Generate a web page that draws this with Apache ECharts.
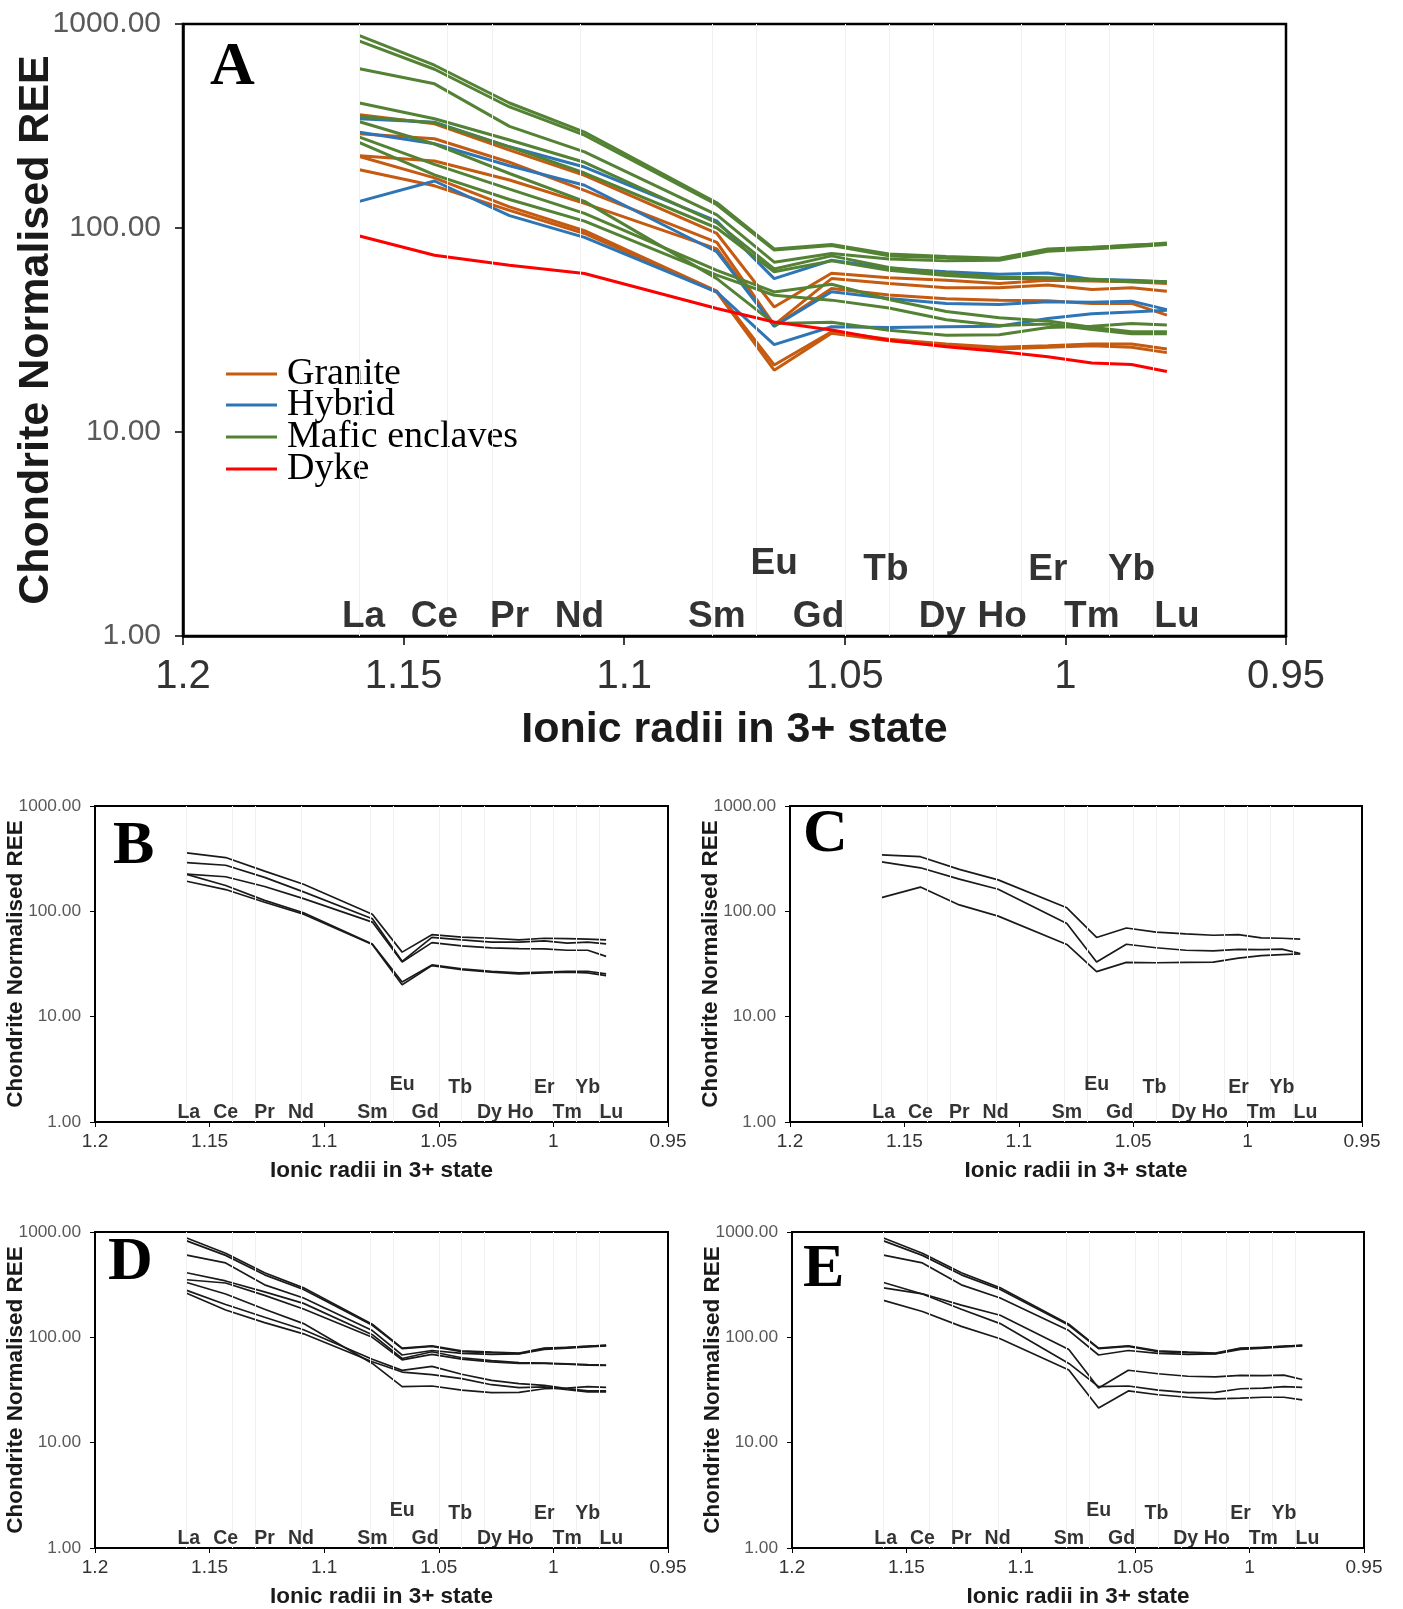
<!DOCTYPE html>
<html>
<head>
<meta charset="utf-8">
<title>Chondrite normalised REE</title>
<script src="https://cdn.jsdelivr.net/npm/echarts@6.0.0/dist/echarts.min.js"></script>
<style>
    html, body { margin: 0; padding: 0; background: #fff; }
    #main { width: 1403px; height: 1609px; }
</style>
</head>
<body>
<div id="main"></div>
<script>
// element order and ionic radii (3+)
var elements = ['La', 'Ce', 'Pr', 'Nd', 'Sm', 'Eu', 'Gd', 'Tb', 'Dy', 'Ho', 'Er', 'Tm', 'Yb', 'Lu'];
var radii = [1.160, 1.143, 1.126, 1.109, 1.079, 1.066, 1.053, 1.040, 1.027, 1.015, 1.004, 0.994, 0.985, 0.977];
var upperRowElements = ['Eu', 'Tb', 'Er', 'Yb'];
var yTickValues = [1, 10, 100, 1000];

// granite samples
var granite1 = [359, 324, 241, 181, 94, 41, 60, 57, 55.5, 53.5, 55.5, 55, 54.5, 53.5];
var granite2 = [290, 274, 210, 153, 85, 33.5, 56.5, 53.5, 51, 51, 52.5, 50, 51, 49];
var granite3 = [226, 213, 172, 132, 79, 33, 50.5, 47, 45, 44.3, 44, 42.7, 42.7, 37.4];
var granite4 = [224, 176, 127, 97, 49, 21.3, 31, 28.5, 27, 26, 26.5, 27, 27, 25.5];
var granite5 = [193, 161, 122, 94, 48.5, 20.1, 30.5, 28, 26.5, 25.5, 26, 26.5, 26, 24.5];

// hybrid samples
var hybrid1 = [343, 330, 250, 199, 108, 56.5, 69.5, 63.5, 61, 59.3, 60.1, 56, 55.5, 54.5];
var hybrid2 = [295, 259, 202, 162, 76.5, 33, 48.7, 45.1, 42.7, 42.2, 43.5, 43.3, 43.8, 39.8];
var hybrid3 = [135, 170, 115, 90, 48.5, 26.8, 32.8, 32.5, 32.8, 33, 36, 38, 38.8, 39.5];

// mafic enclaves
var mafic1 = [877, 628, 410, 295, 133, 79, 83, 74.5, 72.5, 71, 79, 80.5, 82, 84.5];
var mafic2 = [824, 600, 392, 285, 130, 78, 82, 73, 71.5, 70, 78, 80, 82.5, 83.5];
var mafic3 = [603, 509, 315, 236, 116, 68, 75, 70.5, 69, 69.5, 77, 79, 81, 83];
var mafic4 = [410, 343, 270, 210, 106, 63, 73, 64, 60, 57.5, 57, 56, 55, 54.5];
var mafic5 = [352, 328, 250, 186, 100, 61, 69, 62, 58.5, 56.5, 56.5, 55.5, 54.5, 54];
var mafic6 = [332, 258, 185, 135, 56.5, 34, 34.5, 31.5, 29.8, 30, 32.5, 33, 34, 33.5];
var mafic7 = [279, 205, 155, 118, 62, 48.6, 53, 44.6, 39, 36.3, 35, 32.6, 31, 31];
var mafic8 = [262, 182, 138, 108, 58.7, 46.8, 44.3, 40.5, 35.5, 33.3, 33.8, 31.8, 30.3, 30.3];

// dyke
var dyke = [91.4, 73.5, 65.7, 59.8, 40.3, 34.6, 31.6, 28.2, 26.2, 24.8, 23.4, 21.8, 21.4, 19.8];

(function(){
    var obj = {
        init: function(){
            this.chart = echarts.init(document.getElementById('main'), null, { renderer: 'canvas' });
            this.panels = [
                { id: 'A', box: { left: 183, top: 24, width: 1103, height: 612 }, big: true,
                  title: { left: 210, top: 37 },
                  groups: [
                      { name: 'Granite', color: '#C55A11', lines: [granite1, granite2, granite3, granite4, granite5] },
                      { name: 'Hybrid', color: '#2E75B6', lines: [hybrid1, hybrid2, hybrid3] },
                      { name: 'Mafic enclaves', color: '#548235', lines: [mafic1, mafic2, mafic3, mafic4, mafic5, mafic6, mafic7, mafic8] },
                      { name: 'Dyke', color: '#FF0000', lines: [dyke] }
                  ] },
                { id: 'B', box: { left: 95, top: 806, width: 573, height: 316 },
                  title: { left: 113, top: 816 },
                  groups: [{ name: 'Granite B', color: '#1a1a1a', lines: [granite1, granite2, granite3, granite4, granite5] }] },
                { id: 'C', box: { left: 790, top: 806, width: 572, height: 316 },
                  title: { left: 803, top: 804 },
                  groups: [{ name: 'Hybrid C', color: '#1a1a1a', lines: [hybrid1, hybrid2, hybrid3] }] },
                { id: 'D', box: { left: 95, top: 1232, width: 573, height: 316 },
                  title: { left: 108, top: 1232 },
                  groups: [{ name: 'Mafic D', color: '#1a1a1a', lines: [mafic1, mafic2, mafic3, mafic4, mafic5, mafic6, mafic7, mafic8] }] },
                { id: 'E', box: { left: 792, top: 1232, width: 572, height: 316 },
                  title: { left: 803, top: 1239 },
                  groups: [{ name: 'Selected E', color: '#1a1a1a', lines: [mafic1, mafic2, mafic3, mafic6, hybrid2, granite4] }] }
            ];
            this.render();
        },
        pairs: function(values){
            return values.map(function(v, i){ return [radii[i], v]; });
        },
        render: function(){
            var self = this;
            var option = {
                backgroundColor: '#fff',
                animation: false,
                title: [],
                legend: [],
                grid: [],
                xAxis: [],
                yAxis: [],
                series: []
            };
            this.panels.forEach(function(p, idx){
                var s = p.big ? 1 : 0.52;
                option.grid.push({
                    left: p.box.left, top: p.box.top, width: p.box.width, height: p.box.height,
                    show: true, borderColor: '#000', borderWidth: p.big ? 2.5 : 2,
                    backgroundColor: 'transparent', outerBoundsMode: 'none', containLabel: false
                });
                option.title.push({
                    text: p.id, left: p.title.left, top: p.title.top, padding: 0,
                    textStyle: { fontFamily: 'Liberation Serif', fontWeight: 'bold', fontSize: 62, color: '#000' }
                });
                option.xAxis.push({
                    type: 'value', gridIndex: idx, min: 0.95, max: 1.2, interval: 0.05, inverse: true,
                    name: 'Ionic radii in 3+ state', nameLocation: 'middle', nameGap: p.big ? 73 : 37,
                    nameMoveOverlap: false,
                    nameTextStyle: { fontFamily: 'Liberation Sans', fontWeight: 'bold', fontSize: p.big ? 43 : 22.5, color: '#1a1a1a' },
                    axisLine: { lineStyle: { color: '#000', width: p.big ? 2.5 : 2 } },
                    axisTick: { show: true, length: p.big ? 9 : 5, lineStyle: { color: '#000', width: p.big ? 1.5 : 1 } },
                    axisLabel: {
                        fontFamily: 'Liberation Sans', fontSize: p.big ? 40 : 19, color: '#333', margin: p.big ? 21 : 10,
                        formatter: function(v){ return String(+v.toFixed(2)); }
                    },
                    splitLine: { show: false }
                });
                option.yAxis.push({
                    type: 'log', logBase: 10, gridIndex: idx, min: yTickValues[0], max: yTickValues[yTickValues.length - 1],
                    name: 'Chondrite Normalised REE', nameLocation: 'middle', nameGap: p.big ? 125 : 68,
                    nameMoveOverlap: false,
                    nameTextStyle: { fontFamily: 'Liberation Sans', fontWeight: 'bold', fontSize: p.big ? 43 : 22.5, color: '#1a1a1a' },
                    axisLine: { lineStyle: { color: '#000', width: p.big ? 2.5 : 2 } },
                    axisTick: { show: true, length: p.big ? 8 : 5, lineStyle: { color: '#000', width: p.big ? 1.5 : 1 } },
                    minorTick: { show: false },
                    axisLabel: {
                        fontFamily: 'Liberation Sans', fontSize: p.big ? 30 : 17.3, color: '#595959', margin: p.big ? 22 : 14,
                        formatter: function(v){ return v.toFixed(2); }
                    },
                    splitLine: { show: false }
                });

                var first = true;
                p.groups.forEach(function(g){
                    g.lines.forEach(function(vals){
                        var ser = {
                            name: g.name, type: 'line', xAxisIndex: idx, yAxisIndex: idx,
                            data: self.pairs(vals), showSymbol: false, symbol: 'none', smooth: false,
                            lineStyle: { color: g.color, width: p.big ? 3 : 1.7 },
                            itemStyle: { color: g.color },
                            emphasis: { disabled: true }, silent: true
                        };
                        if (first) {
                            // faint vertical guides at each element
                            ser.markLine = {
                                silent: true, symbol: ['none', 'none'], label: { show: false },
                                lineStyle: { color: '#f0f0f0', width: 1, type: 'solid' },
                                emphasis: { disabled: true },
                                data: radii.map(function(r){ return { xAxis: r }; })
                            };
                            first = false;
                        }
                        option.series.push(ser);
                    });
                });

                // element names inside the plot
                var dx = { La: 4, Nd: -5, Gd: -13, Tb: -3, Dy: -4, Ho: 3, Lu: 10 };
                option.series.push({
                    type: 'scatter', xAxisIndex: idx, yAxisIndex: idx, symbolSize: 1, silent: true, z: 10,
                    itemStyle: { color: 'rgba(0,0,0,0)' },
                    label: {
                        show: true, position: 'inside', color: '#000',
                        fontFamily: 'Liberation Sans', fontWeight: 'bold', fontSize: p.big ? 37 : 19.5,
                        formatter: function(prm){ return prm.name; }
                    },
                    data: elements.map(function(el, i){
                        var up = upperRowElements.indexOf(el) > -1;
                        return {
                            name: el,
                            value: [radii[i], up ? (el === 'Eu' ? 2.25 : 2.12) : 1.24],
                            label: { offset: [(dx[el] || 0) * s, 0] }
                        };
                    })
                });
            });

            // legend for panel A, one box per entry
            var legendNames = ['Granite', 'Hybrid', 'Mafic enclaves', 'Dyke'];
            var legendTops = [355, 386, 418, 450];
            legendNames.forEach(function(n, i){
                option.legend.push({
                    data: [n], left: 226, top: legendTops[i], orient: 'vertical', padding: 0,
                    icon: 'rect', itemWidth: 51, itemHeight: 3, selectedMode: false,
                    textStyle: { fontFamily: 'Liberation Serif', fontSize: 38, color: '#000', padding: [0, 0, 0, 5] }
                });
            });

            this.chart.setOption(option);
        }
    };

    obj.init();
})();
</script>
</body>
</html>
